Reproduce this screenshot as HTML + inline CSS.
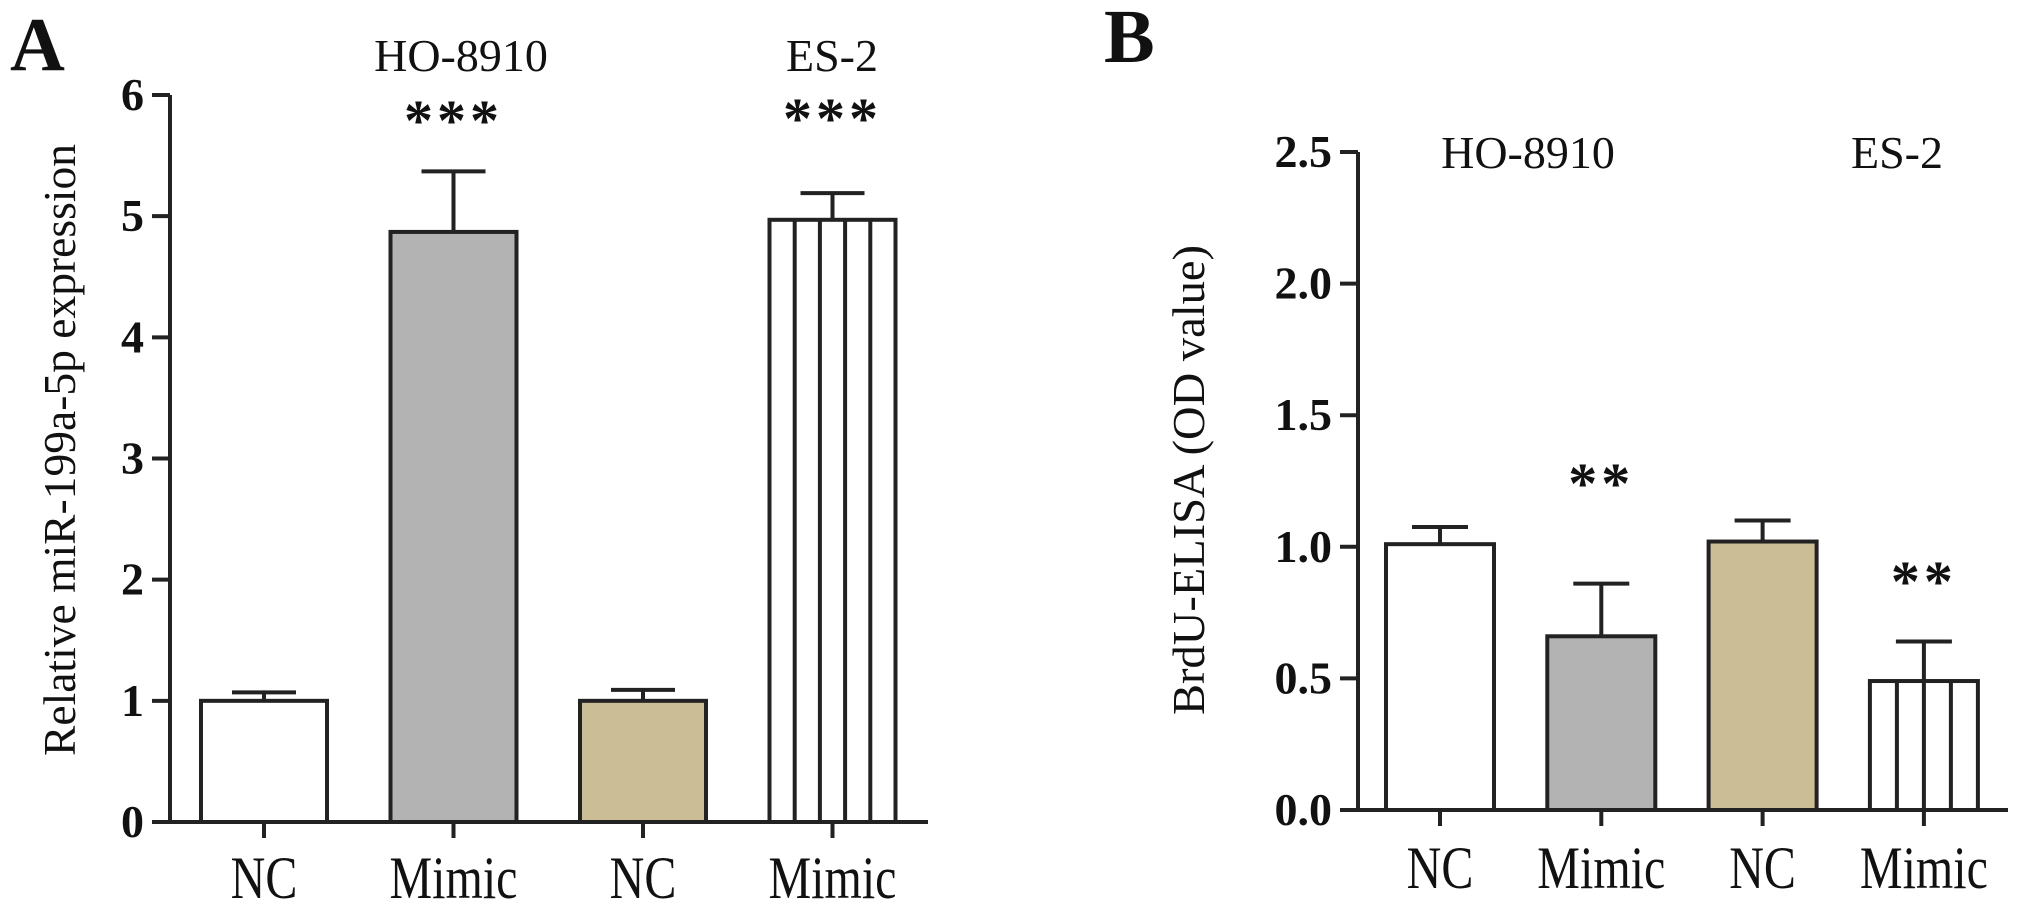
<!DOCTYPE html>
<html><head><meta charset="utf-8"><style>
html,body{margin:0;padding:0;background:#fff;}
svg{display:block;}
text{font-family:"Liberation Serif",serif;fill:#111;}
</style></head><body>
<svg id="fig" width="2031" height="906" viewBox="0 0 2031 906" xmlns="http://www.w3.org/2000/svg"></svg>
<script>
// Panel A data
const catsA = ["NC","Mimic","NC","Mimic"];
const valsA = [1.0, 4.87, 1.0, 4.97];
const errsA = [0.07, 0.50, 0.09, 0.22];
const ticksA = [0,1,2,3,4,5,6];
const tickLabelsA = ["0","1","2","3","4","5","6"];
const starsA = ["", "***", "", "***"];
// Panel B data
const catsB = ["NC","Mimic","NC","Mimic"];
const valsB = [1.01, 0.66, 1.02, 0.49];
const errsB = [0.065, 0.20, 0.08, 0.15];
const ticksB = [0,0.5,1.0,1.5,2.0,2.5];
const tickLabelsB = ["0.0","0.5","1.0","1.5","2.0","2.5"];
const starsB = ["", "**", "", "**"];

const NS="http://www.w3.org/2000/svg";
const svg=document.getElementById('fig');
function mk(tag,attrs,parent){const e=document.createElementNS(NS,tag);for(const k in attrs)e.setAttribute(k,attrs[k]);(parent||svg).appendChild(e);return e;}
const fills=["#ffffff","#b3b3b3","#cbbe97","#ffffff"];

function panel(cfg){
  const g=mk('g',{});
  
  
  const y=v=>cfg.y0-(v-cfg.vmin)/(cfg.vmax-cfg.vmin)*(cfg.y0-cfg.ytop);
  const x=i=>cfg.x0+cfg.step*i;
  cfg.vals.forEach((v,i)=>{
    const cx=x(i), w=cfg.bw, top=y(v), base=y(cfg.vmin);
    const r=mk('rect',{x:cx-w/2,y:top,width:w,height:base-top,fill:fills[i],stroke:"#222","stroke-width":4},g);
    
    
    if(i===3){
      for(let k=1;k<cfg.stripes;k++){
        const sx=cx-w/2+w*k/cfg.stripes;
        const s=mk('line',{x1:sx,y1:top,x2:sx,y2:base,stroke:"#222","stroke-width":4},g);
        
        
      }
    }
    const e=y(v+cfg.errs[i]);
    const el=mk('path',{d:`M${cx},${top} V${e} M${cx-cfg.cap},${e} H${cx+cfg.cap}`,stroke:"#222","stroke-width":4,fill:"none"},g);
    
    
    if(cfg.stars[i]){
      const st=mk('text',{x:cx,y:cfg.starY[i],'text-anchor':'middle','font-size':cfg.starSize,'font-weight':'bold','letter-spacing':'4'},g);
      st.textContent=cfg.stars[i];
      
      
    }
    const tk=mk('line',{x1:cx,y1:base,x2:cx,y2:base+16,stroke:"#222","stroke-width":4},g);
    
    
    const lb=mk('text',{transform:`translate(${cx},${cfg.labelY}) scale(1,1.25)`,'text-anchor':'middle','font-size':48},g);
    lb.textContent=cfg.cats[i];
    
    
  });
  const ax=mk('path',{d:`M${cfg.ax},${cfg.ytop} V${y(cfg.vmin)} M${cfg.ax-18},${y(cfg.vmin)} H${cfg.xend}`,stroke:"#222","stroke-width":4,fill:"none"},g);
  
  
  cfg.ticks.forEach((t,i)=>{
    const ty=y(t);
    const tl=mk('line',{x1:cfg.ax-18,y1:ty,x2:cfg.ax,y2:ty,stroke:"#222","stroke-width":4},g);
    
    
    const tt=mk('text',{x:cfg.ax-26,y:ty+15,'text-anchor':'end','font-size':46,'font-weight':'bold'},g);
    tt.textContent=cfg.tickLabels[i];
    
    
  });
  const yt=mk('text',{transform:`translate(${cfg.titleX},${cfg.titleCY}) rotate(-90)`,'text-anchor':'middle','font-size':46,textLength:cfg.titleLen,lengthAdjust:'spacingAndGlyphs'},g);
  yt.textContent=cfg.title;
  
  
  cfg.groups.forEach(gr=>{
    const t=mk('text',{x:gr[1],y:cfg.groupY,'text-anchor':'middle','font-size':46},g);
    t.textContent=gr[0];
    
    
  });
  const pl=mk('text',{x:cfg.letterX,y:cfg.letterY,'font-size':76,'font-weight':'bold'},g);
  pl.textContent=cfg.letter;
  
  
}

panel({name:'panel-a',cats:catsA,vals:valsA,errs:errsA,ticks:ticksA,tickLabels:tickLabelsA,stars:starsA,
  vmin:0,vmax:6,y0:822,ytop:95,x0:264,step:189.5,bw:126,cap:32,stripes:5,ax:170,xend:928,
  starY:[0,140,0,138],starSize:58,labelY:898,
  title:"Relative miR-199a-5p expression",titleX:75,titleCY:450,titleLen:612,
  groups:[["HO-8910",461],["ES-2",832]],groupY:71,letter:"A",letterX:10,letterY:70});
panel({name:'panel-b',cats:catsB,vals:valsB,errs:errsB,ticks:ticksB,tickLabels:tickLabelsB,stars:starsB,
  vmin:0,vmax:2.5,y0:810,ytop:152,x0:1440,step:161.3,bw:108,cap:28,stripes:4,ax:1358,xend:2008,
  starY:[0,503,0,601],starSize:58,labelY:888,
  title:"BrdU-ELISA (OD value)",titleX:1204,titleCY:480,titleLen:470,
  groups:[["HO-8910",1528],["ES-2",1897]],groupY:168,letter:"B",letterX:1104,letterY:62});
</script>
</body></html>
